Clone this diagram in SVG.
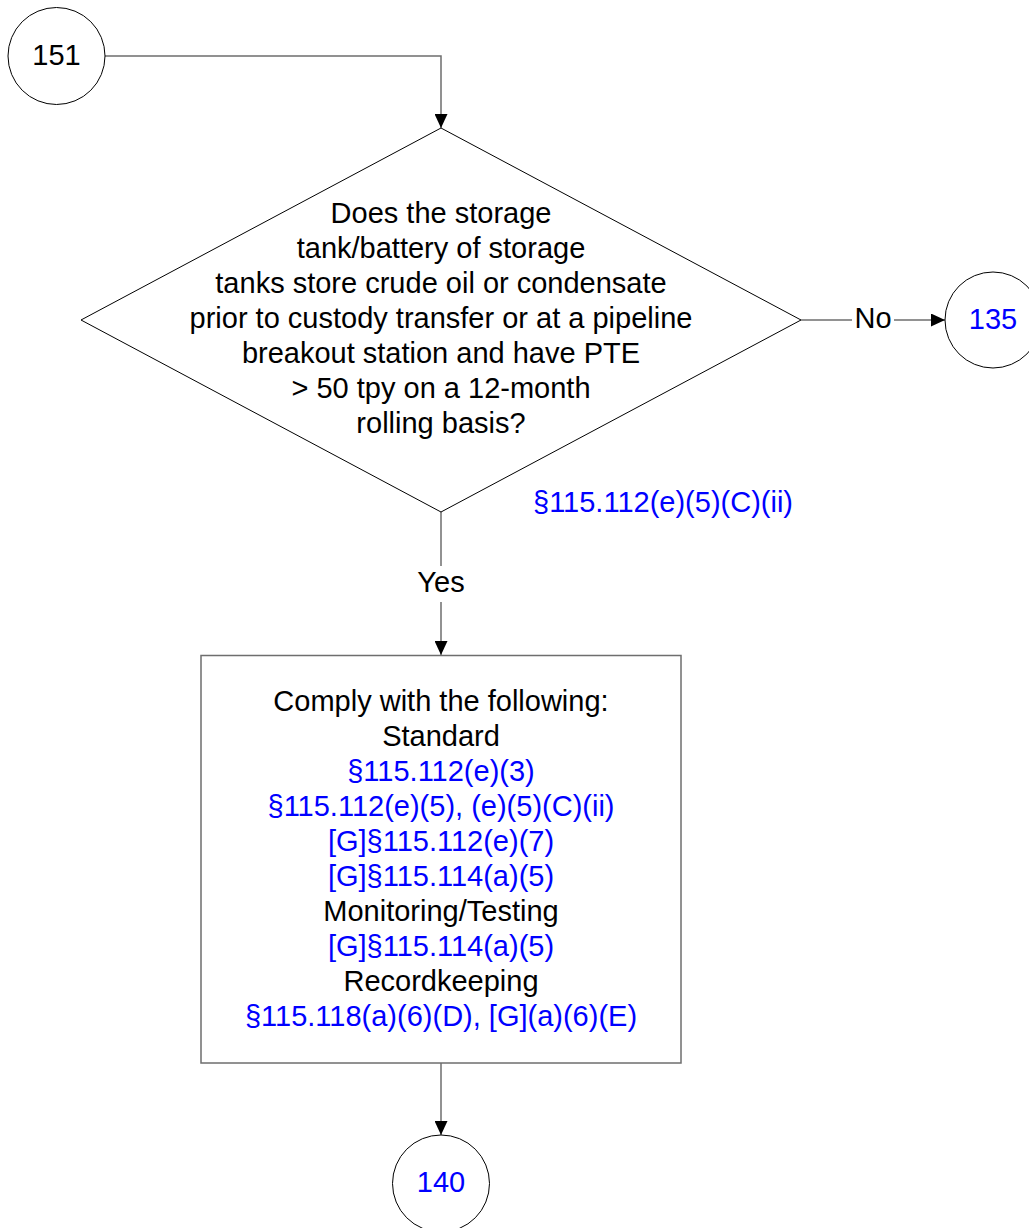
<svg xmlns="http://www.w3.org/2000/svg" width="1029" height="1228" viewBox="0 0 1029 1228">
<style>
text{font-family:"Liberation Sans",Arial,sans-serif;font-size:29px;text-anchor:middle;fill:#000}
.ref{fill:#0000FF}
.shape{fill:#fff;stroke:#000;stroke-width:1}
.box{fill:#fff;stroke:#6e6e6e;stroke-width:1.5}
.conn{fill:none;stroke:#6e6e6e;stroke-width:1.5}
</style>
<defs>
<marker id="arr" markerUnits="userSpaceOnUse" markerWidth="14" markerHeight="13" refX="14" refY="6.5" orient="auto">
<path d="M0,0 L14,6.5 L0,13 z" fill="#000"/>
</marker>
</defs>
<rect width="1029" height="1228" fill="#fff"/>
<g id="connectors">
<path class="conn" d="M105,56 H441 V128" marker-end="url(#arr)"/>
<path class="conn" d="M801,320 H852"/>
<path class="conn" d="M894,320 H945" marker-end="url(#arr)"/>
<path class="conn" d="M441,512 V566"/>
<path class="conn" d="M441,602 V655" marker-end="url(#arr)"/>
<path class="conn" d="M441,1063 V1135" marker-end="url(#arr)"/>
<text x="873" y="328">No</text>
<text x="441" y="592">Yes</text>
</g>
<g id="n151">
<circle class="shape" cx="56.5" cy="56" r="48.5"/>
<text x="56.5" y="65">151</text>
</g>
<g id="decision">
<polygon class="shape" points="441,128 801,320 441,512 81,320"/>
<text x="441" y="222.7">Does the storage</text>
<text x="441" y="257.7">tank/battery of storage</text>
<text x="441" y="292.7">tanks store crude oil or condensate</text>
<text x="441" y="327.7">prior to custody transfer or at a pipeline</text>
<text x="441" y="362.7">breakout station and have PTE</text>
<text x="441" y="397.7">&gt; 50 tpy on a 12-month</text>
<text x="441" y="432.7">rolling basis?</text>
<text class="ref" x="663" y="512">§115.112(e)(5)(C)(ii)</text>
</g>
<g id="n135">
<circle class="shape" cx="993" cy="320" r="48"/>
<text class="ref" x="993" y="328.5">135</text>
</g>
<g id="comply">
<rect class="box" x="201" y="655.5" width="480" height="407.5"/>
<text x="441" y="711">Comply with the following:</text>
<text x="441" y="746">Standard</text>
<text class="ref" x="441" y="781">§115.112(e)(3)</text>
<text class="ref" x="441" y="816">§115.112(e)(5), (e)(5)(C)(ii)</text>
<text class="ref" x="441" y="851">[G]§115.112(e)(7)</text>
<text class="ref" x="441" y="886">[G]§115.114(a)(5)</text>
<text x="441" y="921">Monitoring/Testing</text>
<text class="ref" x="441" y="956">[G]§115.114(a)(5)</text>
<text x="441" y="991">Recordkeeping</text>
<text class="ref" x="441" y="1026">§115.118(a)(6)(D), [G](a)(6)(E)</text>
</g>
<g id="n140">
<circle class="shape" cx="441" cy="1183.5" r="48.5"/>
<text class="ref" x="441" y="1192">140</text>
</g>
</svg>
